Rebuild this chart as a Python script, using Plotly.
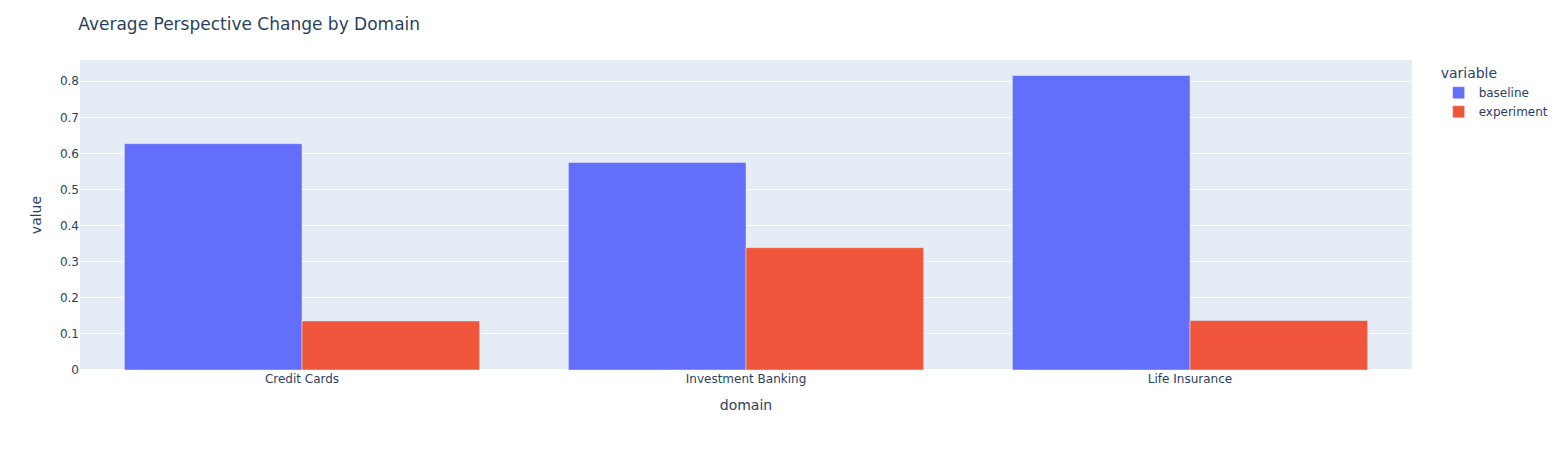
import pandas as pd
import plotly.express as px

domains = ["Credit Cards", "Investment Banking", "Life Insurance"]
baseline = [0.627, 0.575, 0.816]
experiment = [0.136, 0.339, 0.137]

df = pd.DataFrame({"domain": domains, "baseline": baseline, "experiment": experiment})
long = df.melt(id_vars="domain", value_vars=["baseline", "experiment"])

fig = px.bar(long, x="domain", y="value", color="variable", barmode="group",
             title="Average Perspective Change by Domain")
fig.update_layout(width=1566, height=450, margin=dict(t=60),
                  font=dict(family="DejaVu Sans"))
fig.update_yaxes(dtick=0.1)
fig.write_html("out.html", config={"displayModeBar": False},
               post_script="document.body.style.margin='0';")
